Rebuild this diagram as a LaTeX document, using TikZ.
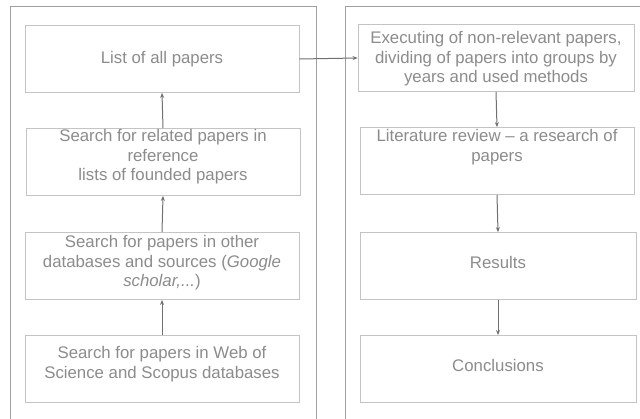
\documentclass[tikz,border=0pt]{standalone}
\usepackage{fontspec}
\setmainfont{Liberation Sans}
\usetikzlibrary{arrows.meta}
\definecolor{txt}{HTML}{8C8C8C}
\definecolor{boxline}{HTML}{C4C4C4}
\definecolor{panel}{HTML}{A0A0A0}
\definecolor{arr}{HTML}{707070}
\tikzset{
  stepbox/.style={draw=boxline, line width=0.8pt, minimum width=274pt, minimum height=67pt, inner sep=0pt},
  lbl/.style={text=txt, font=\fontsize{16.8}{19.5}\selectfont, align=center, inner sep=0pt},
  conn/.style={draw=arr, line width=1pt, -{Stealth[length=5pt,width=4pt]}},
  panelbox/.style={draw=panel, line width=1pt}
}
\begin{document}
\begin{tikzpicture}[x=1pt,y=-1pt]
\useasboundingbox (0,0) rectangle (640,419);
\clip (0,0) rectangle (640,419);
\fill[white] (0,0) rectangle (640,419);
\draw[panelbox] (10,7) rectangle (316,430);
\draw[panelbox] (345,7) rectangle (650,430);
% left column
\node[stepbox] (b1) at (162,59) {};
\node[lbl] (t1) at (162,59) {List of all papers};
\node[stepbox] (b2) at (163,162) {};
\node[lbl] (t2) at (163,157) {Search for related papers in\\reference\\lists of founded papers};
\node[stepbox] (b3) at (162,266) {};
\node[lbl] (t3) at (162,263) {Search for papers in other\\databases and sources (\textit{Google}\\\textit{scholar,...})};
\node[stepbox] (b4) at (162,369) {};
\node[lbl] (t4) at (162,364) {Search for papers in Web of\\Science and Scopus databases};
% right column
\node[stepbox, minimum width=276pt] (a1) at (496,58) {};
\node[lbl] (s1) at (496,59) {Executing of non-relevant papers,\\dividing of papers into groups by\\years and used methods};
\node[stepbox] (a2) at (497,161) {};
\node[lbl] (s2) at (497,147) {Literature review -- a research of\\papers};
\node[stepbox, minimum width=276pt] (a3) at (498,266) {};
\node[lbl] (s3) at (498,262) {Results};
\node[stepbox, minimum width=276pt] (a4) at (498,369) {};
\node[lbl] (s4) at (498,365) {Conclusions};
% connectors
\draw[conn] (b2.north) -- (b1.south);
\draw[conn] (b3.north) -- (b2.south);
\draw[conn] (b4.north) -- (b3.south);
\draw[conn] (b1.east) -- (a1.west);
\draw[conn] (a1.south) -- (a2.north);
\draw[conn] (a2.south) -- (a3.north);
\draw[conn] (a3.south) -- (a4.north);
\end{tikzpicture}
\end{document}
